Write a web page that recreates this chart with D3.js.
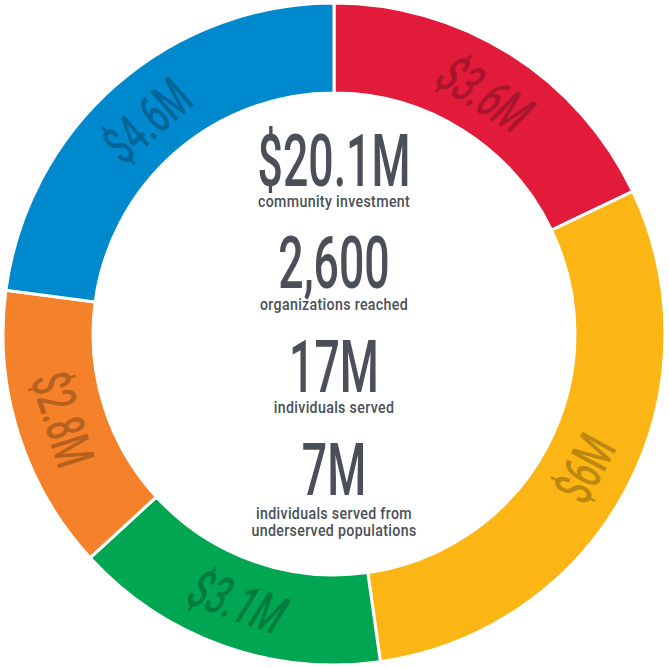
<!DOCTYPE html>
<html>
<head>
<meta charset="utf-8">
<script src="https://cdn.jsdelivr.net/npm/d3@7"></script>
<style>
  html, body { margin: 0; padding: 0; background: #fff; }
  svg { display: block; }
</style>
</head>
<body>
<svg id="chart" width="669" height="668"></svg>
<script>
// ---- data ----
const segmentLabels = ["$3.6M", "$6M", "$3.1M", "$2.8M", "$4.6M"];
const segmentValues = [3.6, 6.0, 3.1, 2.8, 4.6];
const segmentColors = ["#E31B3B", "#FBB616", "#00A651", "#F5822A", "#0089CC"];
const statValues = ["$20.1M", "2,600", "17M", "7M"];
const statCaptions = [
  ["community investment"],
  ["organizations reached"],
  ["individuals served"],
  ["individuals served from", "underserved populations"]
];

// ---- layout ----
const W = 669, H = 668;
const cx = 334, cy = 334;
const outerR = 331, innerR = 241, labelR = 284;
const svg = d3.select("#chart");
const g = svg.append("g").attr("transform", `translate(${cx},${cy})`);

const pie = d3.pie().sort(null).value(d => d.value);
const arcs = pie(segmentValues.map((v, i) => ({ value: v, label: segmentLabels[i], color: segmentColors[i], i })));
const arc = d3.arc().innerRadius(innerR).outerRadius(outerR);

g.selectAll("path.seg").data(arcs).join("path")
  .attr("class", "seg")
  .attr("d", arc)
  .attr("fill", d => d.data.color)
  .attr("stroke", "#fff")
  .attr("stroke-width", 3);

// ring labels
const labelSkew = [-12, 0, -12, 0, 0];
g.selectAll("g.lbl").data(arcs).join("g")
  .attr("class", "lbl")
  .attr("transform", d => {
    const a = (d.startAngle + d.endAngle) / 2;
    const x = Math.sin(a) * labelR, y = -Math.cos(a) * labelR;
    let deg = a * 180 / Math.PI;
    let rot = (deg > 90 && deg < 270) ? deg - 180 : deg;
    return `translate(${x},${y}) rotate(${rot}) skewX(${labelSkew[d.data.i]}) scale(0.62,1)`;
  })
  .append("text")
  .attr("text-anchor", "middle")
  .attr("dy", "0.36em")
  .attr("font-family", "Roboto, 'Open Sans', sans-serif")
  .attr("font-weight", 500)
  .attr("font-size", 54)
  .attr("fill", "#000")
  .attr("fill-opacity", 0.27)
  .text(d => d.data.label);

// center stats
const statBaselines = [186, 288, 392, 495];
const captionBaselines = [[207], [310], [413], [519, 536]];
const textColor = "#4A4F58";
const c = svg.append("g");
statValues.forEach((v, i) => {
  c.append("text")
    .attr("transform", `translate(${cx},${statBaselines[i]}) scale(0.62,1)`)
    .attr("text-anchor", "middle")
    .attr("font-family", "Roboto, sans-serif")
    .attr("font-weight", 500)
    .attr("font-size", 72)
    .attr("fill", textColor)
    .text(v);
  statCaptions[i].forEach((t, j) => {
    c.append("text")
      .attr("transform", `translate(${cx},${captionBaselines[i][j]}) scale(0.86,1)`)
      .attr("text-anchor", "middle")
      .attr("font-family", "Roboto, sans-serif")
      .attr("font-weight", 500)
      .attr("font-size", 16.5)
      .attr("letter-spacing", 0.4)
      .attr("fill", textColor)
      .text(t);
  });
});
</script>
</body>
</html>
